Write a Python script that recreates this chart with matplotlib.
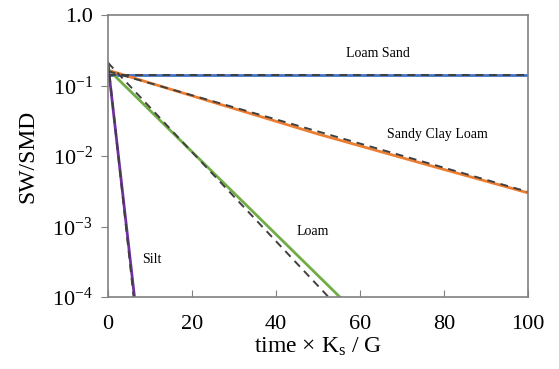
import numpy as np
import matplotlib
matplotlib.use("Agg")
import matplotlib.pyplot as plt
from matplotlib.ticker import FixedLocator, FuncFormatter

plt.rcParams['font.family'] = ['Liberation Serif', 'DejaVu Serif']
plt.rcParams['mathtext.fontset'] = 'custom'
plt.rcParams['mathtext.rm'] = 'Liberation Serif'
plt.rcParams['mathtext.it'] = 'Liberation Serif:italic'

# solid curves (x, SW/SMD)
loam_sand_x = [0, 100]
loam_sand_y = [0.14, 0.14]
sandy_clay_x = [0, 25, 50, 75, 100]
sandy_clay_y = [0.165, 0.058, 0.0205, 0.0078, 0.0030]
loam_x = [0, 55.2]
loam_y = [0.17, 1e-4]
silt_x = [0, 6.3]
silt_y = [0.2, 1e-4]

# dashed reference curves
ref_loam_sand_x = [0, 100]
ref_loam_sand_y = [0.143, 0.143]
ref_sandy_clay_x = [0, 100]
ref_sandy_clay_y = [0.16, 0.0031]
ref_loam_x = [0, 52.5]
ref_loam_y = [0.21, 1e-4]
ref_silt_x = [0, 6.1]
ref_silt_y = [0.22, 1e-4]

labels = ["Loam Sand", "Sandy Clay Loam", "Loam", "Silt"]
label_x = [64.3, 78.5, 48.7, 10.5]
label_y = [0.28, 0.0203, 8.5e-4, 3.4e-4]

fig = plt.figure(figsize=(5.59, 3.69), dpi=100)
ax = fig.add_axes([108 / 559, 1 - 297 / 369, 420 / 559, 282 / 369])

ax.plot(loam_sand_x, loam_sand_y, color='#4472C4', lw=2)
ax.plot(sandy_clay_x, sandy_clay_y, color='#ED7D31', lw=2)
ax.plot(loam_x, loam_y, color='#70AD47', lw=2)
ax.plot(silt_x, silt_y, color='#7030A0', lw=2)

for xs, ys in [(ref_loam_sand_x, ref_loam_sand_y), (ref_sandy_clay_x, ref_sandy_clay_y),
               (ref_loam_x, ref_loam_y), (ref_silt_x, ref_silt_y)]:
    ax.plot(xs, ys, color='#404040', lw=1.4, ls=(0, (4, 3)))

for t, x, y in zip(labels, label_x, label_y):
    ax.text(x, y, t, fontsize=10, ha='center', va='center')

ax.set_yscale('log')
ax.set_xlim(0, 100)
ax.set_ylim(1e-4, 1)
ax.xaxis.set_major_locator(FixedLocator([0, 20, 40, 60, 80, 100]))
ax.yaxis.set_major_locator(FixedLocator([1e-4, 1e-3, 1e-2, 1e-1, 1]))
ax.yaxis.set_minor_locator(FixedLocator([]))


def yfmt(v, pos):
    e = int(round(np.log10(v)))
    if e == 0:
        return "1.0"
    return r"10$^{\mathrm{%d}}$" % e


ax.yaxis.set_major_formatter(FuncFormatter(yfmt))
ax.tick_params(axis='x', direction='in', length=5, color='#808080', labelsize=16, pad=13)
ax.tick_params(axis='y', direction='out', length=5, color='#808080', labelsize=16, pad=6)
for s in ax.spines.values():
    s.set_color('#808080')
    s.set_linewidth(1.2)

ax.set_ylabel("SW/SMD", fontsize=17, labelpad=10)
ax.set_xlabel(r"time $\times$ K$_{\mathrm{s}}$ / G", fontsize=17, labelpad=1)

fig.savefig("out.png", dpi=100)
